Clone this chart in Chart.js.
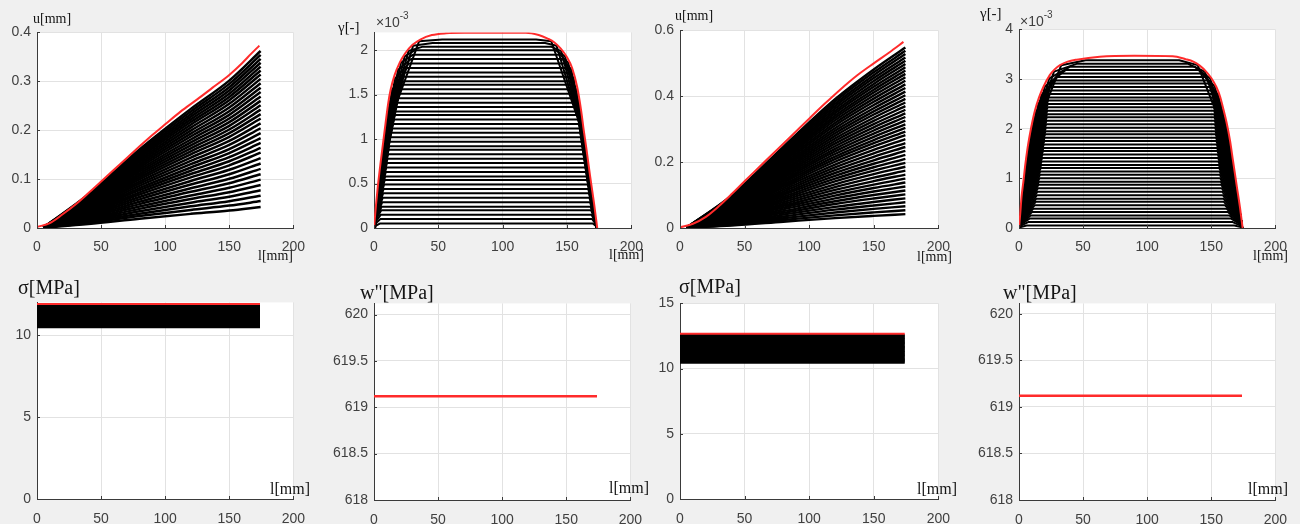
<!DOCTYPE html>
<html>
<head>
<meta charset="utf-8">
<title>Chart</title>
<script src="https://cdn.jsdelivr.net/npm/chart.js@4.4.1/dist/chart.umd.min.js"></script>
<style>
html, body { margin:0; padding:0; }
body { width:1300px; height:524px; overflow:hidden; background:#f0f0f0; position:relative; }
canvas { position:absolute; }
.t { position:absolute; white-space:nowrap; line-height:1; color:#141414; font-family:"Liberation Serif","Times New Roman",serif; }
.s { position:absolute; white-space:nowrap; line-height:1; color:#404040; font-family:"Liberation Sans",Arial,sans-serif; font-size:14px; }
.s span { font-size:10px; position:relative; top:-8px; }
</style>
</head>
<body>
<div id="charts"></div>
<div class="t" style="left:33px;top:12px;font-size:14px">u[mm]</div>
<div class="t" style="left:338px;top:20px;font-size:15px">γ[-]</div>
<div class="s" style="left:376px;top:15px">×10<span>-3</span></div>
<div class="t" style="left:675px;top:9px;font-size:14px">u[mm]</div>
<div class="t" style="left:980px;top:6px;font-size:15px">γ[-]</div>
<div class="s" style="left:1020px;top:14px">×10<span>-3</span></div>
<div class="t" style="left:258px;top:249px;font-size:14px">l[mm]</div>
<div class="t" style="left:609px;top:248px;font-size:14px">l[mm]</div>
<div class="t" style="left:917px;top:250px;font-size:14px">l[mm]</div>
<div class="t" style="left:1253px;top:249px;font-size:14px">l[mm]</div>
<div class="t" style="left:18px;top:277px;font-size:20px">σ[MPa]</div>
<div class="t" style="left:360px;top:282px;font-size:20px">w"[MPa]</div>
<div class="t" style="left:679px;top:276px;font-size:20px">σ[MPa]</div>
<div class="t" style="left:1003px;top:282px;font-size:20px">w"[MPa]</div>
<div class="t" style="left:270px;top:481px;font-size:16px">l[mm]</div>
<div class="t" style="left:609px;top:480px;font-size:16px">l[mm]</div>
<div class="t" style="left:917px;top:481px;font-size:16px">l[mm]</div>
<div class="t" style="left:1248px;top:481px;font-size:16px">l[mm]</div>
<script>
// ================= DATA =================
const xTicks = [0, 50, 100, 150, 200];
const xTickLabels = ['0', '50', '100', '150', '200'];

// ---- Panel 1 : u [mm], case A ----
const u1Ticks = [0, 0.1, 0.2, 0.3, 0.4];
const u1TickLabels = ['0', '0.1', '0.2', '0.3', '0.4'];
const u1EnvX = [0,10,20,30,40,50,60,75,90,100,112,125,137,150,160,167,173.5];
const u1EnvY = [0.002,0.01,0.028,0.048,0.071,0.095,0.119,0.155,0.19,0.212,0.238,0.263,0.287,0.313,0.337,0.356,0.373];
const uGridX = [5, 40, 80, 120, 150, 174.5];          // stations where the black curves are read
const u1Y5   = 0.001;
const u1Y40  = [.0081,.0104,.0125,.0145,.0166,.0187,.0208,.0228,.0249,.027,.0291,.031,.0329,.0347,.0366,.0385,.0404,.0423,.044,.0457,.0474,.0491,.0508,.0525,.0542,.0559,.0576,.0593,.0608,.0623,.0638,.0653,.0668,.0684];
const u1Y80  = [.0191,.0244,.0293,.0342,.0391,.044,.0489,.0537,.0586,.0635,.0684,.0728,.0773,.0817,.0862,.0906,.095,.0995,.1035,.1075,.1115,.1155,.1195,.1235,.1275,.1315,.1355,.1395,.143,.1466,.1501,.1537,.1572,.1608];
const u1Y120 = [.0289,.037,.0444,.0518,.0592,.0666,.074,.0814,.0888,.0962,.1036,.1104,.1171,.1238,.1305,.1373,.144,.1507,.1568,.1628,.1689,.175,.181,.1871,.1931,.1992,.2052,.2113,.2167,.2221,.2274,.2328,.2382,.2436];
const u1Y150 = [.0358,.0458,.0549,.0641,.0733,.0824,.0916,.1007,.1099,.119,.1282,.1365,.1449,.1532,.1615,.1698,.1781,.1865,.194,.2014,.209,.2164,.2239,.2314,.2389,.2464,.2539,.2614,.2681,.2747,.2814,.288,.2947,.3014];
const u1End  = [0.043,0.055,0.066,0.077,0.088,0.099,0.110,0.121,0.132,0.143,0.154,0.164,0.174,0.184,0.194,0.204,0.214,0.224,0.233,0.242,0.251,0.260,0.269,0.278,0.287,0.296,0.305,0.314,0.322,0.330,0.338,0.346,0.354,0.362];

// ---- Panel 2 : gamma [-] x1e-3, case A ----
const g1Ticks = [0, 0.5, 1, 1.5, 2];
const g1TickLabels = ['0', '0.5', '1', '1.5', '2'];
const g1EnvX = [0,1.5,3,5,7,9,11,13,16,20,24,30,36,45,56,70,118,128,135,140,145,150,154,158,161,163,165,168,171,173.5];
const g1EnvY = [0,0.25,0.47,0.72,0.95,1.18,1.4,1.56,1.72,1.86,1.96,2.06,2.12,2.17,2.19,2.195,2.195,2.17,2.13,2.09,2.02,1.92,1.8,1.58,1.32,1.1,0.9,0.58,0.28,0];
const g1Level = [0.05,0.10,0.15,0.20,0.24,0.29,0.34,0.39,0.44,0.49,0.54,0.58,0.63,0.68,0.73,0.78,0.83,0.88,0.92,0.97,1.02,1.07,1.12,1.17,1.22,1.27,1.31,1.36,1.41,1.46,1.51,1.56,1.61,1.65,1.70,1.75,1.80,1.85,1.90,1.95,2.00,2.04,2.08,2.12];
const g1K1Y = [0.0125,0.025,0.0375,0.05,0.06,0.0725,0.085,0.0975,0.11,0.1225,0.135,0.145,0.1575,0.17,0.1825,0.195,0.2075,0.22,0.23,0.2425,0.258,0.278,0.298,0.318,0.338,0.358,0.374,0.394,0.414,0.434,0.457,0.49,0.524,0.6,0.65,0.71,0.775,0.84,0.89,0.93,0.965,0.995,1.025,1.05];
const g1K2Y = [0.025,0.05,0.075,0.10,0.12,0.145,0.17,0.195,0.22,0.245,0.27,0.29,0.315,0.34,0.365,0.39,0.415,0.44,0.46,0.485,0.516,0.556,0.596,0.636,0.676,0.716,0.748,0.788,0.828,0.868,0.913,0.98,1.047,1.20,1.30,1.42,1.55,1.68,1.78,1.86,1.93,1.99,2.05,2.10];
const g1K1L = [0.9,1.0,1.0,1.1,1.2,1.2,1.3,1.4,1.5,1.5,1.6,1.7,1.7,1.8,1.9,2.0,2.0,2.1,2.2,2.3,2.4,2.5,2.6,2.8,2.9,3.0,3.1,3.3,3.4,3.6,3.7,4.0,4.2,4.8,5.2,5.7,6.3,6.8,7.3,7.6,7.9,8.2,8.5,8.7];
const g1K2L = [1.2,1.3,1.5,1.6,1.7,1.9,2.0,2.2,2.3,2.5,2.6,2.8,2.9,3.1,3.3,3.5,3.6,3.8,3.9,4.1,4.4,4.7,5.0,5.3,5.6,6.0,6.2,6.6,6.9,7.3,7.7,8.3,8.8,10.2,11.1,12.3,13.9,16.3,18.7,21.0,23.8,26.8,30.4,35.0];
const g1CL  = [4.5,4.9,5.3,5.7,6.0,6.4,6.8,7.1,7.5,7.9,8.4,8.7,9.2,9.6,10.1,10.5,11.0,11.4,11.8,12.2,12.8,13.5,14.2,14.9,15.6,16.3,16.8,17.5,18.2,18.9,19.7,20.6,21.5,22.2,23.1,24.0,25.6,27.2,28.8,30.4,32.0,38.0,45.5,53.0];
const g1CR  = [170,169.6,169.1,168.7,168.3,167.9,167.4,167.0,166.5,166.1,165.6,165.2,164.7,164.2,163.7,163.2,162.7,162.2,161.8,161.3,160.8,160.3,159.8,159.3,158.8,158.3,157.9,157.4,156.9,156.4,155.8,155.0,154.2,153.4,152.5,151.5,150.0,148.5,146.5,144.5,141.0,137.5,133.0,126.0];
const g1K2R = [172.3,172.1,171.8,171.6,171.4,171.2,171.0,170.8,170.5,170.3,170.1,169.9,169.7,169.4,169.2,168.9,168.7,168.4,168.2,168.0,167.6,167.2,166.9,166.5,166.1,165.7,165.4,165.1,164.7,164.3,163.9,163.2,162.5,161.1,160.2,158.9,157.3,155.2,153.4,151.0,148.5,145.5,141.9,137.8];
const g1K1R = [172.6,172.5,172.4,172.3,172.2,172.0,171.9,171.8,171.7,171.6,171.5,171.4,171.3,171.2,171.1,171.0,170.8,170.7,170.6,170.5,170.4,170.2,170.0,169.8,169.6,169.4,169.3,169.1,168.9,168.7,168.4,168.1,167.8,167.0,166.5,166.0,165.4,164.8,164.3,163.9,163.6,163.3,163.0,162.7];
const g1FootL = 0.5, g1FootR = 172.8;

// ---- Panel 3 : u [mm], case B ----
const u2Ticks = [0, 0.2, 0.4, 0.6];
const u2TickLabels = ['0', '0.2', '0.4', '0.6'];
const u2EnvX = [0,10,20,30,40,50,60,75,90,100,112,124,137,150,162,173];
const u2EnvY = [0.002,0.013,0.034,0.066,0.103,0.142,0.18,0.237,0.294,0.332,0.377,0.42,0.463,0.5,0.533,0.565];
const u2Y5   = 0.001;
const u2Y40  = [.0076,.0098,.0119,.0141,.0163,.0185,.0206,.0228,.025,.0272,.0293,.0315,.0337,.0358,.038,.0402,.0424,.0445,.0467,.0489,.051,.053,.055,.057,.059,.061,.063,.065,.067,.069,.071,.0729,.0749,.0769,.0789,.0809,.0829,.0847,.0865,.0883,.0901,.0919,.0938,.0956,.0974,.0992];
const u2Y80  = [.0189,.0243,.0297,.0351,.0405,.0459,.0513,.0567,.0621,.0675,.0729,.0783,.0837,.0891,.0945,.0999,.1053,.1107,.1161,.1215,.1269,.1319,.1368,.1418,.1467,.1517,.1566,.1616,.1665,.1715,.1764,.1814,.1863,.1913,.1962,.2012,.2061,.2106,.2151,.2196,.2241,.2286,.2331,.2376,.2421,.2466];
const u2Y120 = [.030,.0385,.0471,.0557,.0642,.0728,.0813,.0899,.0985,.107,.1156,.1241,.1327,.1413,.1498,.1584,.167,.1755,.1841,.1926,.2012,.2091,.2169,.2248,.2326,.2404,.2483,.2561,.264,.2718,.2797,.2875,.2954,.3032,.3111,.3189,.3268,.3339,.3411,.3482,.3553,.3625,.3696,.3767,.3839,.391];
const u2Y150 = [.0369,.0474,.058,.0685,.0791,.0896,.1002,.1107,.1213,.1318,.1423,.1529,.1634,.174,.1845,.1951,.2056,.2162,.2267,.2372,.2478,.2575,.2671,.2768,.2865,.2961,.3058,.3155,.3251,.3348,.3445,.3541,.3638,.3734,.3831,.3928,.4024,.4112,.42,.4288,.4376,.4464,.4552,.4639,.4727,.4815];
const u2End  = [0.042,0.054,0.066,0.078,0.090,0.102,0.114,0.126,0.138,0.150,0.162,0.174,0.186,0.198,0.210,0.222,0.234,0.246,0.258,0.270,0.282,0.293,0.304,0.315,0.326,0.337,0.348,0.359,0.370,0.381,0.392,0.403,0.414,0.425,0.436,0.447,0.458,0.468,0.478,0.488,0.498,0.508,0.518,0.528,0.538,0.548];

// ---- Panel 4 : gamma [-] x1e-3, case B ----
const g2Ticks = [0, 1, 2, 3, 4];
const g2TickLabels = ['0', '1', '2', '3', '4'];
const g2EnvX = [0,1,2,3.5,4.7,6.5,8.6,10.5,12.5,15.5,19,24,28,32,38,45,63,90,120,130,136,141,146,150,154,157,159,162,164.6,167,170,172.5,174.5];
const g2EnvY = [0,0.3,0.63,0.95,1.23,1.58,1.9,2.15,2.37,2.62,2.84,3.08,3.2,3.28,3.35,3.39,3.45,3.47,3.46,3.4,3.35,3.27,3.15,3.02,2.84,2.64,2.44,2.12,1.77,1.35,0.83,0.4,0];
const g2Level = [0.05,0.12,0.19,0.25,0.32,0.39,0.46,0.53,0.59,0.66,0.73,0.80,0.87,0.93,1.00,1.07,1.14,1.21,1.27,1.34,1.41,1.48,1.55,1.61,1.68,1.75,1.82,1.89,1.95,2.02,2.09,2.16,2.23,2.29,2.36,2.43,2.50,2.57,2.63,2.70,2.77,2.84,2.91,2.97,3.04,3.11,3.18,3.25,3.31,3.38];
const g2K1Y = [0.009,0.021,0.033,0.044,0.056,0.068,0.081,0.093,0.103,0.116,0.128,0.14,0.152,0.163,0.175,0.193,0.21,0.228,0.243,0.26,0.278,0.295,0.32,0.344,0.372,0.40,0.428,0.456,0.48,0.51,0.545,0.58,0.615,0.645,0.68,0.715,0.75,0.80,0.846,0.897,0.949,1.0,1.088,1.163,1.25,1.338,1.425,1.506,1.575,1.64];
const g2K2Y = [0.018,0.042,0.067,0.088,0.112,0.137,0.161,0.186,0.207,0.231,0.256,0.28,0.305,0.326,0.35,0.385,0.42,0.455,0.485,0.52,0.555,0.59,0.64,0.688,0.744,0.80,0.856,0.912,0.96,1.02,1.09,1.16,1.23,1.29,1.36,1.43,1.5,1.603,1.691,1.794,1.897,2.0,2.175,2.325,2.5,2.675,2.85,3.012,3.15,3.28];
const g2K1L = [0.8,0.9,0.9,1.0,1.0,1.0,1.1,1.1,1.1,1.2,1.2,1.3,1.3,1.3,1.4,1.4,1.5,1.6,1.6,1.7,1.7,1.8,1.9,1.9,2.0,2.1,2.2,2.3,2.3,2.4,2.5,2.6,2.8,2.9,3.0,3.2,3.4,3.6,3.8,4.0,4.3,4.5,4.9,5.2,5.6,6.1,6.5,6.9,7.3,7.7];
const g2K2L = [1.1,1.1,1.2,1.3,1.4,1.5,1.5,1.6,1.7,1.8,1.9,1.9,2.0,2.1,2.2,2.3,2.4,2.5,2.6,2.7,2.8,2.9,3.0,3.3,3.5,3.8,4.1,4.3,4.5,4.8,5.1,5.4,5.7,6.0,6.4,6.7,7.1,7.7,8.2,8.9,9.6,10.4,11.7,13.1,15.1,17.4,20.2,23.6,27.3,33.0];
const g2CL  = [6.0,7.1,8.2,9.1,10.2,11.3,12.4,13.2,13.5,14.0,14.4,14.8,15.2,15.6,16.0,16.4,16.7,17.1,17.4,17.7,18.1,18.4,18.8,19.1,19.4,19.8,20.1,20.5,20.8,21.1,21.3,21.5,21.7,21.9,22.1,22.3,22.5,22.8,23.1,23.4,23.7,24.0,25.7,27.1,28.8,32.3,36.2,40.0,45.5,52.0];
const g2CR  = [168.0,166.8,165.5,164.4,163.2,162.0,160.7,159.8,159.5,159.0,158.6,158.2,157.8,157.4,157.0,156.7,156.4,156.2,155.9,155.6,155.4,155.1,154.8,154.6,154.3,154.0,153.7,153.4,153.2,153.0,152.8,152.7,152.5,152.4,152.3,152.1,152.0,151.6,151.2,150.8,150.4,150.0,148.7,147.5,146.2,143.3,140.2,137.0,131.5,125.0];
const g2K2R = [173.4,173.3,173.2,173.1,172.9,172.8,172.7,172.6,172.5,172.3,172.2,172.1,172.0,171.9,171.8,171.6,171.4,171.2,171.0,170.8,170.6,170.4,170.1,169.8,169.5,169.2,168.9,168.5,168.3,167.9,167.5,167.1,166.7,166.3,165.9,165.5,165.1,164.6,164.0,163.4,162.7,161.9,160.5,159.1,157.4,155.5,152.8,149.2,145.0,139.4];
const g2K1R = [173.7,173.6,173.5,173.5,173.4,173.4,173.3,173.2,173.2,173.1,173.1,173.0,172.9,172.9,172.8,172.7,172.6,172.6,172.5,172.4,172.3,172.2,172.1,172.0,171.8,171.7,171.5,171.4,171.2,171.1,170.9,170.7,170.5,170.3,170.1,169.9,169.7,169.4,169.1,168.8,168.5,168.2,167.7,167.3,166.8,166.3,165.8,165.3,164.9,164.5];
const g2FootL = 0.5, g2FootR = 174.2;

// ---- Panel 5 : sigma [MPa], case A ----
const s1Ticks = [0, 5, 10];
const s1TickLabels = ['0', '5', '10'];
const s1Levels = [10.50,10.57,10.64,10.71,10.78,10.85,10.92,10.99,11.06,11.13,11.20,11.27,11.34,11.41,11.48,11.55,11.62,11.69,11.76,11.83];
const s1Red = 11.9;

// ---- Panel 6 : w'' [MPa], case A ----
const w1Ticks = [618, 618.5, 619, 619.5, 620];
const w1TickLabels = ['618', '618.5', '619', '619.5', '620'];
const w1Red = 619.12;

// ---- Panel 7 : sigma [MPa], case B ----
const s2Ticks = [0, 5, 10, 15];
const s2TickLabels = ['0', '5', '10', '15'];
const s2Levels = [10.46,10.56,10.66,10.76,10.86,10.96,11.06,11.16,11.26,11.36,11.46,11.56,11.66,11.76,11.86,11.96,12.06,12.16,12.26,12.36,12.46,12.56];
const s2Red = 12.68;

// ---- Panel 8 : w'' [MPa], case B ----
const w2Ticks = [618, 618.5, 619, 619.5, 620];
const w2TickLabels = ['618', '618.5', '619', '619.5', '620'];
const w2Red = 619.12;

const bondLength = 174;

// ================= BUILDERS =================
const RED = '#ff2b2b';
const BLACK = '#000000';
function pts(xs, ys) { return xs.map((x, i) => ({ x: x, y: ys[i] })); }
function fanCurves(y0, c40, c80, c120, c150, cEnd) {
  return cEnd.map((v, i) => pts(uGridX, [y0, c40[i], c80[i], c120[i], c150[i], v]));
}
function plateau(level, k1y, k2y, k1L, k2L, cL, cR, k2R, k1R, fL, fR) {
  return level.map((h, i) => [
    { x: fL, y: 0 }, { x: k1L[i], y: k1y[i] }, { x: k2L[i], y: k2y[i] }, { x: cL[i], y: h },
    { x: cR[i], y: h }, { x: k2R[i], y: k2y[i] }, { x: k1R[i], y: k1y[i] }, { x: fR, y: 0 }
  ]);
}
function hlines(levels, x0, x1) { return levels.map(v => [{ x: x0, y: v }, { x: x1, y: v }]); }
function redSet(data, mono, w) { return { data: data, borderColor: RED, borderWidth: w || 2, cubicInterpolationMode: mono ? 'monotone' : 'default' }; }
function blackSets(list, mono, w) { return list.map(d => ({ data: d, borderColor: BLACK, borderWidth: w || 2, cubicInterpolationMode: mono ? 'monotone' : 'default' })); }

const panels = [
  { L: 37, T: 32, R: 293, B: 228, ymin: 0, ymax: 0.4, yt: u1Ticks, yl: u1TickLabels, padX: 11,
    ds: () => [redSet(pts(u1EnvX, u1EnvY), true)].concat(blackSets(fanCurves(u1Y5, u1Y40, u1Y80, u1Y120, u1Y150, u1End), true, 2.5)) },
  { L: 374, T: 32, R: 631, B: 228, ymin: 0, ymax: 2.2, yt: g1Ticks, yl: g1TickLabels, padX: 11,
    ds: () => [redSet(pts(g1EnvX, g1EnvY), true)].concat(blackSets(plateau(g1Level, g1K1Y, g1K2Y, g1K1L, g1K2L, g1CL, g1CR, g1K2R, g1K1R, g1FootL, g1FootR), false, 2)) },
  { L: 680, T: 30, R: 938, B: 228, ymin: 0, ymax: 0.6, yt: u2Ticks, yl: u2TickLabels, padX: 11,
    ds: () => [redSet(pts(u2EnvX, u2EnvY), true)].concat(blackSets(fanCurves(u2Y5, u2Y40, u2Y80, u2Y120, u2Y150, u2End), true, 2.4)) },
  { L: 1019, T: 29, R: 1275, B: 228, ymin: 0, ymax: 4, yt: g2Ticks, yl: g2TickLabels, padX: 11,
    ds: () => [redSet(pts(g2EnvX, g2EnvY), true)].concat(blackSets(plateau(g2Level, g2K1Y, g2K2Y, g2K1L, g2K2L, g2CL, g2CR, g2K2R, g2K1R, g2FootL, g2FootR), false, 2)) },
  { L: 37, T: 302, R: 293, B: 499, ymin: 0, ymax: 12, yt: s1Ticks, yl: s1TickLabels, padX: 12,
    ds: () => [redSet([{ x: 0, y: s1Red }, { x: bondLength, y: s1Red }], false)].concat(blackSets(hlines(s1Levels, 0, bondLength), false, 2.5)) },
  { L: 374, T: 303, R: 630, B: 500, ymin: 618, ymax: 620.12, yt: w1Ticks, yl: w1TickLabels, padX: 12,
    ds: () => [redSet([{ x: 0, y: w1Red }, { x: bondLength, y: w1Red }], false, 2.5)] },
  { L: 680, T: 303, R: 938, B: 499, ymin: 0, ymax: 15, yt: s2Ticks, yl: s2TickLabels, padX: 12,
    ds: () => [redSet([{ x: 0, y: s2Red }, { x: bondLength, y: s2Red }], false)].concat(blackSets(hlines(s2Levels, 0, bondLength), false, 2.5)) },
  { L: 1019, T: 303, R: 1275, B: 500, ymin: 618, ymax: 620.11, yt: w2Ticks, yl: w2TickLabels, padX: 12,
    ds: () => [redSet([{ x: 0, y: w2Red }, { x: bondLength, y: w2Red }], false, 2.5)] }
];

// ================= PLUGINS =================
const whiteArea = {
  id: 'whiteArea',
  beforeDraw(chart) {
    const a = chart.chartArea, ctx = chart.ctx;
    ctx.save(); ctx.fillStyle = '#ffffff';
    ctx.fillRect(a.left, a.top, a.right - a.left, a.bottom - a.top);
    ctx.restore();
  }
};
const inwardTicks = {
  id: 'inwardTicks',
  afterDatasetsDraw(chart) {
    const ctx = chart.ctx, a = chart.chartArea, x = chart.scales.x, y = chart.scales.y;
    ctx.save(); ctx.strokeStyle = '#3a3a3a'; ctx.lineWidth = 1; ctx.beginPath();
    x.ticks.forEach(t => { const p = Math.round(x.getPixelForValue(t.value)) + 0.5; ctx.moveTo(p, a.bottom); ctx.lineTo(p, a.bottom - 3); });
    y.ticks.forEach(t => { const p = Math.round(y.getPixelForValue(t.value)) + 0.5; ctx.moveTo(a.left, p); ctx.lineTo(a.left + 3, p); });
    ctx.stroke(); ctx.restore();
  }
};

// ================= CHARTS =================
const WY = 44, PT = 10, PR = 16, HX = 32;
const GRID = '#e2e2e2', AXIS = '#3a3a3a', TICK = '#404040';
const TFONT = { family: '"Liberation Sans", Arial, sans-serif', size: 14 };
const holder = document.getElementById('charts');

function config(p) {
  return {
    type: 'line',
    data: { datasets: p.ds() },
    options: {
      responsive: false, animation: false, devicePixelRatio: 1, events: [],
      layout: { padding: { top: PT, right: PR, left: 0, bottom: 0 } },
      plugins: { legend: { display: false }, tooltip: { enabled: false }, title: { display: false } },
      elements: { point: { radius: 0 }, line: { tension: 0, borderCapStyle: 'butt', borderJoinStyle: 'round' } },
      scales: {
        x: {
          type: 'linear', min: 0, max: 200,
          afterBuildTicks: s => { s.ticks = xTicks.map(v => ({ value: v })); },
          afterFit: s => { s.height = HX; },
          grid: { color: GRID, lineWidth: 1, drawTicks: false },
          border: { display: true, color: AXIS, width: 1 },
          ticks: { padding: p.padX, font: TFONT, color: TICK, maxRotation: 0, autoSkip: false,
                   callback: (v, i) => xTickLabels[i] }
        },
        y: {
          type: 'linear', min: p.ymin, max: p.ymax,
          afterBuildTicks: s => { s.ticks = p.yt.map(v => ({ value: v })); },
          afterFit: s => { s.width = WY; },
          grid: { color: GRID, lineWidth: 1, drawTicks: false },
          border: { display: true, color: AXIS, width: 1 },
          ticks: { padding: 6, font: TFONT, color: TICK, autoSkip: false,
                   callback: (v, i) => p.yl[i] }
        }
      }
    },
    plugins: [whiteArea, inwardTicks]
  };
}

panels.forEach(p => {
  const c = document.createElement('canvas');
  let w = WY + (p.R - p.L) + PR, h = PT + (p.B - p.T) + HX;
  c.width = w; c.height = h; c.style.width = w + 'px'; c.style.height = h + 'px';
  holder.appendChild(c);
  // first pass: measure where Chart.js puts the plot area, then size the canvas so it lands on the target box
  let ch = new Chart(c.getContext('2d'), config(p));
  const a = ch.chartArea;
  const offL = a.left, offT = a.top, offR = w - a.right, offB = h - a.bottom;
  ch.destroy();
  w = Math.round(offL + (p.R - p.L) + offR); h = Math.round(offT + (p.B - p.T) + offB);
  c.width = w; c.height = h; c.style.width = w + 'px'; c.style.height = h + 'px';
  c.style.left = Math.round(p.L - offL) + 'px'; c.style.top = Math.round(p.T - offT) + 'px';
  ch = new Chart(c.getContext('2d'), config(p));
});
</script>
</body>
</html>
